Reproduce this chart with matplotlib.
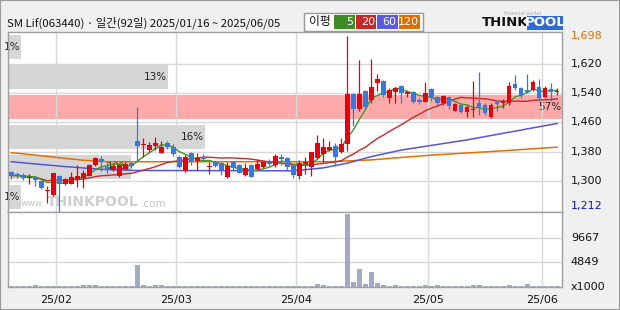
import matplotlib
matplotlib.use('Agg')
import matplotlib.pyplot as plt
import matplotlib.transforms as mtransforms
from matplotlib.patches import Rectangle
import numpy as np
import pandas as pd

plt.rcParams['font.family'] = ['DejaVu Sans']
KFONT = ['Noto Sans CJK KR', 'DejaVu Sans']

# ---------------- data ----------------
title = "SM Lif(063440) · 일간(92일) 2025/01/16 ~ 2025/06/05"
month_labels = ["25/02", "25/03", "25/04", "25/05", "25/06"]
month_start_idx = [8, 28, 48, 70, 89]

opens = [1323, 1318, 1315, 1308, 1308, 1300, 1271, 1262, 1312, 1291,
         1291, 1302, 1306, 1314, 1343, 1360, 1338, 1329, 1312, 1333,
         1348, 1410, 1398, 1384, 1396, 1377, 1403, 1393, 1364, 1327,
         1375, 1355, 1364, 1337, 1350, 1348, 1311, 1350, 1343, 1315,
         1343, 1331, 1338, 1352, 1342, 1366, 1361, 1343, 1313, 1347,
         1337, 1363, 1372, 1384, 1395, 1378, 1400, 1537, 1496, 1545,
         1521, 1569, 1573, 1526, 1544, 1560, 1537, 1542, 1521, 1517,
         1551, 1529, 1512, 1530, 1492, 1508, 1489, 1493, 1514, 1508,
         1475, 1517, 1512, 1512, 1565, 1553, 1549, 1549, 1558, 1529,
         1551, 1543]
highs = [1327, 1325, 1320, 1318, 1314, 1303, 1285, 1322, 1316, 1306,
         1325, 1343, 1330, 1345, 1366, 1367, 1350, 1344, 1345, 1350,
         1352, 1503, 1416, 1405, 1419, 1410, 1408, 1400, 1370, 1370,
         1378, 1377, 1372, 1352, 1353, 1350, 1352, 1353, 1345, 1348,
         1346, 1359, 1353, 1359, 1372, 1373, 1364, 1347, 1357, 1366,
         1380, 1425, 1416, 1410, 1402, 1416, 1698, 1540, 1631, 1548,
         1635, 1593, 1576, 1555, 1556, 1562, 1548, 1545, 1528, 1571,
         1553, 1532, 1535, 1532, 1512, 1512, 1507, 1574, 1597, 1512,
         1512, 1520, 1524, 1570, 1590, 1558, 1594, 1576, 1580, 1560,
         1568, 1553]
lows = [1304, 1307, 1303, 1291, 1284, 1276, 1240, 1258, 1212, 1289,
        1290, 1282, 1279, 1312, 1340, 1327, 1322, 1326, 1310, 1330,
        1336, 1350, 1366, 1380, 1384, 1375, 1387, 1368, 1335, 1325,
        1343, 1328, 1353, 1318, 1338, 1315, 1306, 1330, 1320, 1313,
        1309, 1328, 1336, 1341, 1338, 1343, 1329, 1306, 1304, 1317,
        1314, 1360, 1350, 1382, 1340, 1376, 1382, 1450, 1490, 1498,
        1514, 1545, 1530, 1512, 1512, 1512, 1530, 1512, 1510, 1515,
        1520, 1505, 1508, 1498, 1490, 1485, 1475, 1474, 1480, 1480,
        1473, 1492, 1500, 1508, 1548, 1528, 1540, 1545, 1520, 1527,
        1520, 1535]
closes = [1314, 1314, 1307, 1311, 1303, 1279, 1273, 1320, 1290, 1304,
          1311, 1313, 1320, 1343, 1363, 1350, 1329, 1340, 1344, 1347,
          1341, 1395, 1401, 1398, 1403, 1393, 1393, 1373, 1337, 1366,
          1352, 1361, 1359, 1340, 1341, 1328, 1340, 1334, 1322, 1334,
          1311, 1345, 1350, 1345, 1368, 1359, 1338, 1315, 1349, 1350,
          1378, 1403, 1392, 1393, 1366, 1400, 1537, 1496, 1537, 1501,
          1556, 1578, 1535, 1549, 1553, 1540, 1544, 1517, 1515, 1541,
          1526, 1512, 1532, 1506, 1510, 1489, 1503, 1495, 1503, 1485,
          1508, 1510, 1519, 1560, 1553, 1532, 1544, 1571, 1526, 1553,
          1543, 1545]
volumes = [180, 170, 160, 200, 420, 190, 170, 160, 150, 180,
           200, 190, 380, 380, 360, 170, 160, 150, 180, 170,
           200, 4300, 420, 200, 380, 370, 180, 160, 170, 160,
           150, 180, 170, 160, 190, 170, 160, 180, 170, 190,
           160, 170, 180, 160, 190, 170, 160, 180, 170, 190,
           180, 560, 350, 200, 190, 210, 14300, 1050, 3500, 560,
           2950, 800, 380, 220, 370, 200, 190, 180, 200, 380,
           200, 360, 190, 180, 200, 170, 190, 380, 390, 200,
           190, 180, 210, 370, 200, 190, 560, 220, 190, 180,
           200, 170]

ma60_idx = [0, 8, 15, 21, 47, 52, 56, 60, 65, 76, 91]
ma60_val = [1352, 1340, 1331, 1328, 1327, 1335, 1348, 1366, 1384, 1412, 1457]
ma120_idx = [0, 8, 12, 16, 53, 60, 66, 70, 82, 91]
ma120_val = [1377, 1363, 1356, 1352, 1352, 1357, 1365, 1370, 1382, 1392]

band_pcts = [1, 10, 16, 57, 13, 1]      # bottom -> top
band_current = 3
price_ticks = [1300, 1380, 1460, 1540, 1620]
price_max, price_min = 1698, 1212
vol_ticks = [4849, 9667]
ma_labels = ["5", "20", "60", "120"]

# ---------------- styles ----------------
UP = '#e8000e'
DOWN = '#3777e0'
MA_COLORS = ['#3a9a22', '#c62a2a', '#5454e0', '#e07000']
BOX_COLORS = ['#3d8b25', '#c62828', '#5a5ae0', '#dc6e00']
GRID = '#d8d8d8'
FRAME = '#a0a0a0'

W, H = 620, 310
fig = plt.figure(figsize=(W / 100, H / 100), dpi=100)
fig.patch.set_facecolor('#f0f0f0')


def fx(px):
    return px / W


def fy(py):
    return 1 - py / H


L, R, T, MID, B = 8, 562, 32, 212, 287
ax = fig.add_axes([fx(L), fy(MID), fx(R) - fx(L), fy(T) - fy(MID)])
axv = fig.add_axes([fx(L), fy(B), fx(R) - fx(L), fy(MID) - fy(B)])

n = len(closes)
x = np.arange(n)
xlim = (-0.55, 91.8)
ylim = (1214, 1708)

for a in (ax, axv):
    a.set_facecolor('white')
    a.set_xlim(*xlim)
    a.set_xticks([])
    a.set_yticks([])
    for s in a.spines.values():
        s.set_color(FRAME)
        s.set_linewidth(1)
ax.set_ylim(*ylim)
axv.set_ylim(0, 14700)

# price-by-volume bands
span = xlim[1] - xlim[0]
nb = len(band_pcts)
bh = (ylim[1] - ylim[0]) / nb
inset = 8
for k, pct in enumerate(band_pcts):
    y0 = ylim[0] + k * bh + inset
    hgt = bh - 2 * inset
    wid = min(max(pct * 2.05, 2.25), span)
    col = '#ffaaaa' if k == band_current else '#d6d6d6'
    ax.add_patch(Rectangle((xlim[0], y0), wid, hgt, facecolor=col,
                           edgecolor='none', zorder=1))
    ax.text(xlim[0] + wid - 0.15, y0 + hgt / 2, f"{pct}%", ha='right',
            va='center', fontsize=7.5, color='#222222', zorder=1.2)

# grid
for p in price_ticks:
    ax.axhline(p, color=GRID, lw=1, zorder=1.5)
for v in vol_ticks:
    axv.axhline(v, color=GRID, lw=1, zorder=0.5)
for m in month_start_idx:
    ax.axvline(m - 0.5, color=GRID, lw=1, zorder=1.5)
    axv.axvline(m - 0.5, color=GRID, lw=1, zorder=0.5)

# watermark
ax.text(fx(21), fy(204), "www.", fontsize=6.5, color='#c4c4c4',
        transform=fig.transFigure, va='center', ha='left', zorder=2)
ax.text(fx(93), fy(202), "THINKPOOL", fontsize=10, fontweight='bold',
        color='#cfcfcf', transform=fig.transFigure, va='center',
        ha='center', zorder=2)
ax.text(fx(141), fy(204), ".com", fontsize=7.5, color='#c4c4c4',
        transform=fig.transFigure, va='center', ha='left', zorder=2)

# moving averages
cs = pd.Series(closes, dtype=float)
ma5 = cs.rolling(5, min_periods=1).mean()
ma20 = cs.rolling(20, min_periods=1).mean()
ax.plot(ma120_idx, ma120_val, color=MA_COLORS[3], lw=1.1, zorder=3)
ax.plot(ma60_idx, ma60_val, color=MA_COLORS[2], lw=1.1, zorder=3)
ax.plot(x, ma20, color=MA_COLORS[1], lw=1.0, zorder=3)
ax.plot(x, ma5, color=MA_COLORS[0], lw=1.0, zorder=3)

# candles
o = np.array(opens, float)
c = np.array(closes, float)
hi = np.array(highs, float)
lo = np.array(lows, float)
colors = np.where(c >= o, UP, DOWN)
ax.vlines(x, lo, hi, colors=colors, lw=0.9, zorder=4)
bottoms = np.minimum(o, c)
heights = np.maximum(np.abs(c - o), 2.8)
ax.bar(x, heights, bottom=bottoms, width=0.76, color=colors,
       edgecolor='none', zorder=5)

# volume
axv.bar(x, volumes, width=0.78, color='#a3abc3', edgecolor='none', zorder=2)

# right labels
trp = mtransforms.blended_transform_factory(ax.transAxes, ax.transData)
for p in price_ticks:
    ax.text(1.016, p, f"{p:,}", transform=trp, ha='left', va='center',
            fontsize=8, color='#111111', clip_on=False)
ax.text(1.016, price_max, f"{price_max:,}", transform=trp, ha='left',
        va='center', fontsize=8, color='#e07000', clip_on=False)
ax.text(1.016, 0.035, f"{price_min:,}", transform=ax.transAxes, ha='left',
        va='center', fontsize=8, color='#1010cc', clip_on=False)
trv = mtransforms.blended_transform_factory(axv.transAxes, axv.transData)
for v in vol_ticks:
    axv.text(1.016, v, f"{v}", transform=trv, ha='left', va='center',
             fontsize=8, color='#111111', clip_on=False)
axv.text(1.016, 0, "x1000", transform=trv, ha='left', va='center',
         fontsize=8, color='#111111', clip_on=False)

# x labels
for m, lab in zip(month_start_idx, month_labels):
    px = L + (m - 0.5 - xlim[0]) / span * (R - L)
    fig.text(fx(px), fy(300), lab, ha='center', va='center', fontsize=8,
             color='#111111')

# header
fig.text(fx(7), fy(23), title, fontsize=8.2, va='center', color='#111111',
         family=KFONT)
fig.patches.append(Rectangle((fx(304), fy(31)), fx(423) - fx(304),
                             fy(13) - fy(31), transform=fig.transFigure,
                             facecolor='white', edgecolor='#999999', lw=1))
fig.text(fx(320), fy(22), "이평", fontsize=8.5, ha='center', va='center',
         family=KFONT, color='#111111')
box_edges = [334, 355.5, 377, 398.5, 421]
for k, lab in enumerate(ma_labels):
    x0, x1 = box_edges[k], box_edges[k + 1] - 1
    fig.patches.append(Rectangle((fx(x0), fy(29)), fx(x1) - fx(x0),
                                 fy(15) - fy(29), transform=fig.transFigure,
                                 facecolor=BOX_COLORS[k], edgecolor='none'))
    fig.text(fx(x1 - 1), fy(22), lab, fontsize=8, ha='right', va='center',
             color='white')

# logo
fig.text(fx(482), fy(23), "THINK", fontsize=9.5, fontweight='bold',
         va='center', ha='left', color='#111111')
fig.patches.append(Rectangle((fx(527), fy(30)), fx(563) - fx(527),
                             fy(16) - fy(30), transform=fig.transFigure,
                             facecolor='#2f6ad8', edgecolor='none'))
fig.text(fx(545), fy(23), "POOL", fontsize=9.5, fontweight='bold',
         va='center', ha='center', color='white')
fig.text(fx(522), fy(14), "financial portal", fontsize=3.5, va='center',
         ha='center', color='#aaaaaa')

# outer border
fig.patches.append(Rectangle((0, 0), 1, 1, transform=fig.transFigure,
                             fill=False, edgecolor='#9a9a9a', lw=1.5))

fig.savefig('out.png', dpi=100, facecolor=fig.get_facecolor())
